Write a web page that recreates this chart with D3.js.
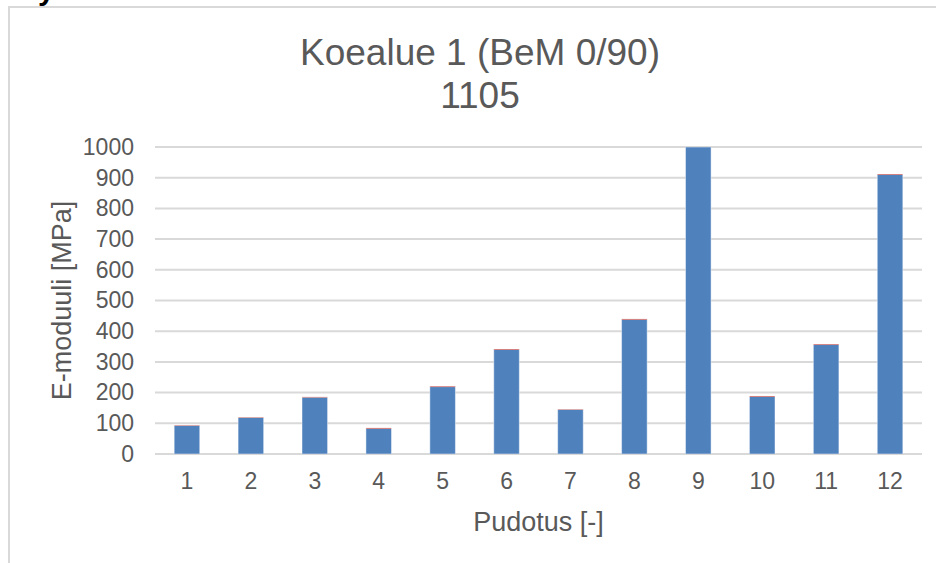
<!DOCTYPE html>
<html>
<head>
<meta charset="utf-8">
<script src="https://cdn.jsdelivr.net/npm/d3@7"></script>
<style>
  html, body { margin: 0; padding: 0; background: #fff; }
  svg { display: block; font-family: Arial, "Liberation Sans", sans-serif; }
</style>
</head>
<body>
<svg id="chart" width="936" height="563"></svg>
<script>
// Drop numbers (Pudotus) and measured modulus values
const categories = ["1", "2", "3", "4", "5", "6", "7", "8", "9", "10", "11", "12"];
const modulusValues = [92, 118, 184, 82, 218, 339, 144, 437, 1000, 186, 355, 909];
const extraValues = [2, 2, 2, 3, 3, 3, 2, 3, 0, 3, 3, 3];
const yTicks = [0, 100, 200, 300, 400, 500, 600, 700, 800, 900, 1000];

const titleLine1 = "Koealue 1 (BeM 0/90)";
const titleLine2 = "1105";
const xTitle = "Pudotus [-]";
const yTitle = "E-moduuli [MPa]";

const svg = d3.select("#chart");
const textColor = "#595959";
const gridColor = "#d9d9d9";

// Heading fragment above the chart frame
svg.append("text")
  .attr("x", 38).attr("y", 0)
  .attr("font-size", 30).attr("font-weight", "bold")
  .attr("fill", "#000")
  .text("y");

// Chart frame
svg.append("rect")
  .attr("x", 9).attr("y", 7)
  .attr("width", 960).attr("height", 600)
  .attr("fill", "none")
  .attr("stroke", gridColor).attr("stroke-width", 2);

const plot = { left: 155, right: 922, top: 147, bottom: 454 };

const x = d3.scaleBand()
  .domain(categories)
  .range([plot.left, plot.right])
  .paddingInner(0.6)
  .paddingOuter(0.3);

const y = d3.scaleLinear()
  .domain([0, 1000])
  .range([plot.bottom, plot.top]);

// Gridlines
svg.append("g")
  .selectAll("line")
  .data(yTicks)
  .join("line")
  .attr("x1", plot.left).attr("x2", plot.right)
  .attr("y1", d => y(d)).attr("y2", d => y(d))
  .attr("stroke", gridColor).attr("stroke-width", 2);

// Y axis labels
const yAxis = d3.axisLeft(y).tickValues(yTicks).tickFormat(d3.format("d")).tickSize(0).tickPadding(0);
svg.append("g")
  .attr("transform", `translate(${plot.left - 21},0)`)
  .call(yAxis)
  .call(g => g.select(".domain").remove())
  .call(g => g.selectAll("text")
    .attr("font-size", 23).attr("fill", textColor)
    .attr("font-family", "Arial, 'Liberation Sans', sans-serif"));

// X axis labels
const xAxis = d3.axisBottom(x).tickSize(0).tickPadding(0);
svg.append("g")
  .attr("transform", `translate(0,${plot.bottom + 19})`)
  .call(xAxis)
  .call(g => g.select(".domain").remove())
  .call(g => g.selectAll("text")
    .attr("font-size", 23).attr("fill", textColor)
    .attr("font-family", "Arial, 'Liberation Sans', sans-serif"));

// Stacked bars: modulus plus small upper segment
const stackData = categories.map((c, i) => ({ cat: c, main: modulusValues[i], extra: extraValues[i] }));
const series = d3.stack().keys(["main", "extra"])(stackData);
const colors = { main: "#4f81bd", extra: "#c0504d" };

svg.append("defs").append("clipPath").attr("id", "plotClip")
  .append("rect")
  .attr("x", plot.left).attr("y", plot.top)
  .attr("width", plot.right - plot.left).attr("height", plot.bottom - plot.top);

const barGroup = svg.append("g").attr("clip-path", "url(#plotClip)");
barGroup.selectAll("g")
  .data(series)
  .join("g")
  .attr("fill", d => colors[d.key])
  .selectAll("rect")
  .data(d => d)
  .join("rect")
  .attr("x", d => x(d.data.cat))
  .attr("width", x.bandwidth())
  .attr("y", d => y(d[1]))
  .attr("height", d => Math.max(0, y(d[0]) - y(d[1])));

// Light outline around each bar
barGroup.selectAll("rect.outline")
  .data(stackData)
  .join("rect")
  .attr("class", "outline")
  .attr("x", d => x(d.cat))
  .attr("width", x.bandwidth())
  .attr("y", d => y(d.main + d.extra))
  .attr("height", d => y(0) - y(d.main + d.extra))
  .attr("fill", "none")
  .attr("stroke", "rgba(255,255,255,0.45)")
  .attr("stroke-width", 1);

// Titles
const title = svg.append("text")
  .attr("text-anchor", "middle")
  .attr("fill", textColor)
  .attr("font-size", 37);
title.append("tspan").attr("x", 480).attr("y", 65).text(titleLine1);
title.append("tspan").attr("x", 480).attr("y", 108).text(titleLine2);

svg.append("text")
  .attr("x", (plot.left + plot.right) / 2).attr("y", 531)
  .attr("text-anchor", "middle")
  .attr("fill", textColor).attr("font-size", 27)
  .text(xTitle);

svg.append("text")
  .attr("transform", `translate(71,${(plot.top + plot.bottom) / 2}) rotate(-90)`)
  .attr("text-anchor", "middle")
  .attr("fill", textColor).attr("font-size", 27)
  .text(yTitle);
</script>
</body>
</html>
